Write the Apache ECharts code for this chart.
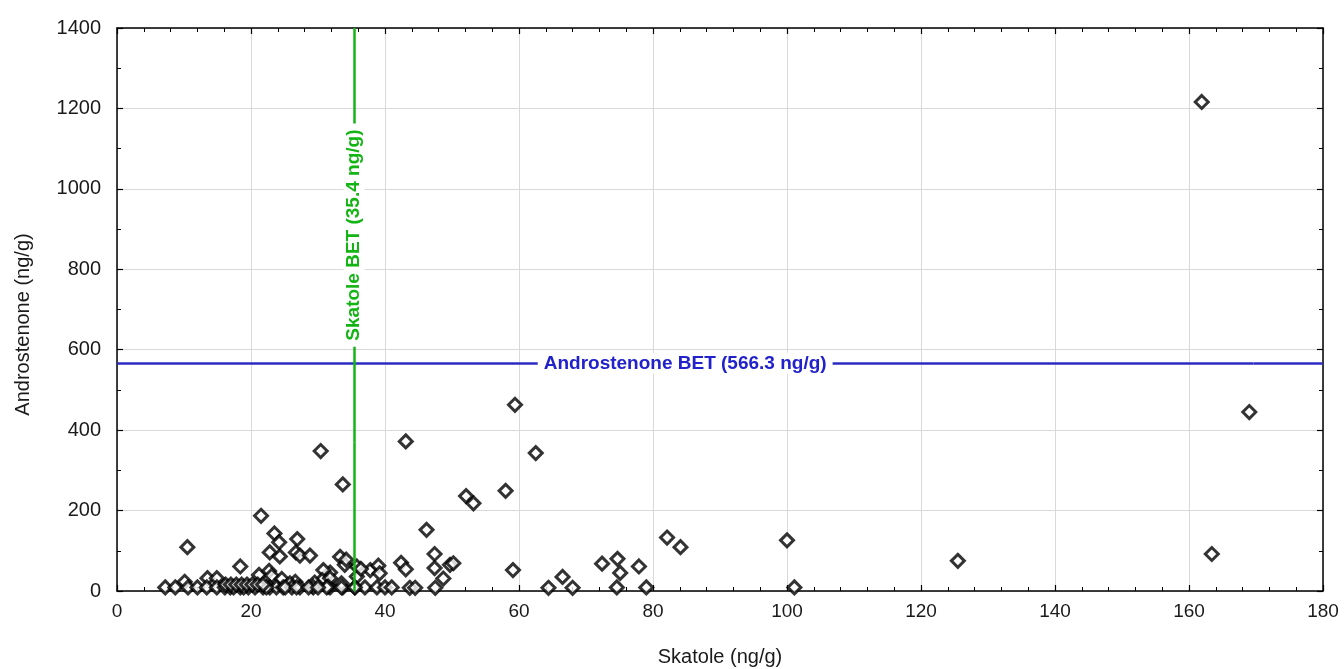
<!DOCTYPE html>
<html>
<head>
<meta charset="utf-8">
<script src="https://cdn.jsdelivr.net/npm/echarts@6/dist/echarts.min.js"></script>
<style>
html,body{margin:0;padding:0;background:#fff;}
#chart{width:1344px;height:669px;}
</style>
</head>
<body>
<div id="chart"></div>
<script>
// Skatole (x, ng/g) and Androstenone (y, ng/g) per sample
const skatole = [
  161.9, 169.0, 163.4, 125.5, 100.0, 101.1, 82.1, 84.1, 72.4, 74.7,
  75.1, 74.6, 77.9, 79.0, 59.4, 62.5, 58.0, 59.1, 64.4, 66.5,
  68.0, 52.1, 53.2, 43.1, 33.7, 30.4, 46.2, 47.4, 47.4, 48.7,
  47.5, 49.7, 50.2, 42.4, 43.1, 43.7, 44.5, 37.8, 39.0, 39.2,
  35.8, 35.8, 33.3, 34.0, 31.8, 33.7, 35.5, 37.0, 38.8, 40.0,
  41.0, 31.8, 21.5, 23.5, 24.2, 26.9, 22.8, 24.3, 26.7, 27.3,
  28.8, 10.5, 18.4, 30.8, 21.2, 22.7, 23.1, 24.6, 13.5, 14.9,
  10.1, 26.6, 30.6, 31.8, 29.2, 31.5, 25.8, 29.5, 33.5,
  7.2, 8.7, 10.6, 12.0, 13.4, 14.9, 16.1, 16.9, 18.4, 19.6,
  20.6, 21.8, 22.8, 23.8, 24.8, 26.1, 27.3, 29.3, 31.3, 33.5,
  35.5, 17.4, 18.9, 22.3, 25.1, 26.8, 28.6, 30.0,
  16.2, 17.0, 17.8, 18.6, 19.4, 20.2, 21.0, 21.8, 34.2, 36.4
];
const androstenone = [
  1216, 445, 92, 75, 126, 9, 133, 109, 68, 80,
  45, 9, 61, 9, 463, 343, 249, 52, 8, 35,
  8, 236, 218, 372, 265, 348, 152, 92, 57, 31,
  8, 65, 69, 70, 54, 8, 8, 52, 63, 44,
  61, 36, 85, 65, 46, 9, 9, 9, 9, 9,
  9, 9, 187, 143, 121, 129, 96, 86, 96, 88,
  88, 109, 61, 52, 40, 50, 38, 30, 32, 32,
  23, 23, 27, 32, 12, 11, 19, 21, 19,
  9, 9, 9, 9, 9, 9, 9, 9, 9, 9,
  9, 9, 9, 9, 9, 9, 9, 9, 9, 9,
  9, 9, 9, 9, 9, 9, 9, 9,
  16, 16, 16, 16, 16, 16, 16, 16, 78, 55
];
const xTicks = {min: 0, max: 180, interval: 20};
const yTicks = {min: 0, max: 1400, interval: 200};
const skatoleBET = 35.4;
const androBET = 566.3;
const skatoleLabel = 'Skatole BET (35.4 ng/g)';
const androLabel = 'Androstenone BET (566.3 ng/g)';
// label centres along the reference lines (data units)
const androLabelCentre = 84.8;
const skatoleLabelCentre = 885;

const points = skatole.map((x, i) => [x, androstenone[i]]);
const font = "'Liberation Sans', Arial, sans-serif";
const textColor = '#1a1a1a';

const chart = echarts.init(document.getElementById('chart'));
const baseAxisLine = {show: true, onZero: false, lineStyle: {color: '#000', width: 1.5}};
const baseTick = {show: true, inside: true, length: 6, lineStyle: {color: '#000', width: 1.2}};
const baseMinor = {show: true, length: 4, lineStyle: {color: '#000', width: 1}};
const plain = v => String(v);

const lineLabel = (text, color) => ({
  show: true, position: 'middle', formatter: text, color: color,
  fontFamily: font, fontSize: 19, fontWeight: 'bold',
  backgroundColor: '#fff', padding: [1, 6], distance: 0, verticalAlign: 'middle'
});

chart.setOption({
  backgroundColor: '#fff',
  animation: false,
  grid: {left: 117, right: 21, top: 28, bottom: 78, containLabel: false, outerBoundsMode: 'none'},
  xAxis: [
    {
      type: 'value', position: 'bottom',
      min: xTicks.min, max: xTicks.max, interval: xTicks.interval,
      name: 'Skatole (ng/g)', nameLocation: 'middle', nameGap: 56,
      nameTextStyle: {fontFamily: font, fontSize: 20, color: textColor},
      axisLine: baseAxisLine, axisTick: baseTick,
      minorTick: Object.assign({splitNumber: 5}, baseMinor),
      axisLabel: {fontFamily: font, fontSize: 19, color: textColor, margin: 11, formatter: plain},
      splitLine: {show: true, lineStyle: {color: '#d9d9d9', width: 1}}
    },
    {
      type: 'value', position: 'top',
      min: xTicks.min, max: xTicks.max, interval: xTicks.interval,
      axisLine: baseAxisLine, axisTick: baseTick,
      minorTick: Object.assign({splitNumber: 5}, baseMinor),
      axisLabel: {show: false}, splitLine: {show: false}
    }
  ],
  yAxis: [
    {
      type: 'value', position: 'left',
      min: yTicks.min, max: yTicks.max, interval: yTicks.interval,
      name: 'Androstenone (ng/g)', nameLocation: 'middle', nameGap: 84,
      nameTextStyle: {fontFamily: font, fontSize: 20, color: textColor, padding: [0, 30, 0, 0]},
      axisLine: baseAxisLine, axisTick: baseTick,
      minorTick: Object.assign({splitNumber: 2}, baseMinor),
      axisLabel: {fontFamily: font, fontSize: 20, color: textColor, margin: 16, formatter: plain},
      splitLine: {show: true, lineStyle: {color: '#d9d9d9', width: 1}}
    },
    {
      type: 'value', position: 'right',
      min: yTicks.min, max: yTicks.max, interval: yTicks.interval,
      axisLine: baseAxisLine, axisTick: baseTick,
      minorTick: Object.assign({splitNumber: 2}, baseMinor),
      axisLabel: {show: false}, splitLine: {show: false}
    }
  ],
  series: [
    {
      type: 'scatter',
      xAxisIndex: 0, yAxisIndex: 0,
      data: points,
      symbol: 'diamond',
      symbolSize: 13,
      itemStyle: {color: '#fff', borderColor: '#000', borderWidth: 3},
      z: 3,
      markLine: {
        silent: true,
        symbol: 'none',
        z: 5,
        data: [
          [
            {coord: [xTicks.min, androBET], lineStyle: {color: '#2b2bc4', width: 2.5, type: 'solid'},
             label: lineLabel(androLabel, '#2222cc')},
            {coord: [2 * androLabelCentre - xTicks.min, androBET]}
          ],
          [
            {coord: [2 * androLabelCentre - xTicks.min, androBET], lineStyle: {color: '#2b2bc4', width: 2.5, type: 'solid'},
             label: {show: false}},
            {coord: [xTicks.max, androBET]}
          ],
          [
            {coord: [skatoleBET, yTicks.min], lineStyle: {color: '#14b414', width: 2.5, type: 'solid'},
             label: {show: false}},
            {coord: [skatoleBET, 2 * skatoleLabelCentre - yTicks.max]}
          ],
          [
            {coord: [skatoleBET, 2 * skatoleLabelCentre - yTicks.max], lineStyle: {color: '#14b414', width: 2.5, type: 'solid'},
             label: lineLabel(skatoleLabel, '#14b414')},
            {coord: [skatoleBET, yTicks.max]}
          ]
        ]
      }
    }
  ]
});
</script>
</body>
</html>
